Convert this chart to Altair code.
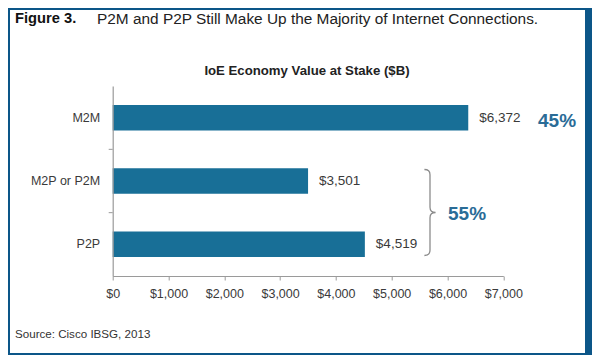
import altair as alt
import pandas as pd

# ---- data ----
categories = ["M2M", "M2P or P2M", "P2P"]
values = [6372, 3501, 4519]
x_ticks = [0, 1000, 2000, 3000, 4000, 5000, 6000, 7000]
share_labels = ["45%", "55%"]
header_label = "Figure 3."
header_text = "P2M and P2P Still Make Up the Majority of Internet Connections."
chart_title = "IoE Economy Value at Stake ($B)"
source_text = "Source: Cisco IBSG, 2013"

FONT = "Liberation Sans"
BORDER = "#0c5688"
BAR = "#186f97"
PCT = "#2a6c97"
TXT = "#3a3a3a"

df = pd.DataFrame({"category": categories, "value": values})

W, H = 390.6, 190

yenc = alt.Y(
    "category:N",
    sort=categories,
    scale=alt.Scale(paddingInner=0, paddingOuter=0),
    axis=alt.Axis(
        title=None, ticks=False, labelPadding=13, labelFontSize=12.5,
        labelColor=TXT, labelFont=FONT, domainColor="#9a9a9a", domainWidth=1.2,
        zindex=2,
    ),
)
xenc = alt.X(
    "value:Q",
    scale=alt.Scale(domain=[0, 7000], nice=False),
    axis=alt.Axis(
        title=None, values=x_ticks, format="$,.0f", grid=False,
        labelFontSize=12.5, labelColor=TXT, labelFont=FONT, labelPadding=7,
        labelFlush=False, labelOverlap=False, labelBound=False,
        tickSize=4, tickColor="#9a9a9a", domainColor="#9a9a9a", domainWidth=1.2,
        zindex=2,
    ),
)


def one(text):
    return pd.DataFrame({"t": [text]})


panel = alt.Chart(one("")).mark_rect(color="white").encode(
    x=alt.value(-102.7), x2=alt.value(472.3), y=alt.value(-76), y2=alt.value(267)
)

bars = alt.Chart(df).mark_bar(size=25.5, color=BAR).encode(x=xenc, y=yenc)

vlabels = alt.Chart(df).mark_text(
    align="left", baseline="middle", dx=11, fontSize=13.5, font=FONT, color=TXT
).encode(
    x=alt.X("value:Q"),
    y=alt.Y("category:N", sort=categories),
    text=alt.Text("value:Q", format="$,.0f"),
)

yticks = alt.Chart(pd.DataFrame({"category": categories[1:]})).mark_rule(
    color="#9a9a9a", strokeWidth=1
).encode(
    y=alt.Y("category:N", sort=categories, bandPosition=0),
    x=alt.value(-4), x2=alt.value(0),
)

def label(text, x, y, size, weight="normal", color=TXT, align="left"):
    return alt.Chart(one(text)).mark_text(
        align=align, baseline="middle", fontSize=size, fontWeight=weight,
        font=FONT, color=color
    ).encode(x=alt.value(x), y=alt.value(y), text="t:N")

fig_lbl = label(header_label, -97.7, -67, 14.7, "bold", "#111111")
fig_txt = label(header_text, -15.7, -67, 15.4, "normal", "#222222")
title = label(chart_title, 194.3, -15, 13.2, "bold", "#222222", align="center")
source = label(source_text, -97.7, 249, 11.6, "normal", "#333333")
pct45 = label(share_labels[0], 425.3, 35, 19, "bold", PCT)
pct55 = label(share_labels[1], 335.3, 128, 19, "bold", PCT)

brace_path = "M -0.13 -1 Q 0 -1 0 -0.88 L 0 -0.12 Q 0 0 0.13 0 Q 0 0 0 0.12 L 0 0.88 Q 0 1 -0.13 1"
brace = alt.Chart(one("")).mark_point(
    shape=brace_path, filled=False, stroke="#8c8c8c", strokeWidth=1.3, size=86 * 86, opacity=1
).encode(x=alt.value(317.3), y=alt.value(126.5))

chart = alt.layer(
    panel, bars, vlabels, yticks, fig_lbl, fig_txt, title, source, pct45, pct55, brace
).properties(
    width=W, height=H,
    autosize=alt.AutoSizeParams(type="none"),
    padding={"left": 104.7, "top": 78, "right": 88.7, "bottom": 79},
    background=BORDER,
).configure_view(stroke=None)

chart.save("out.html", embed_options={"renderer": "svg", "actions": False})
